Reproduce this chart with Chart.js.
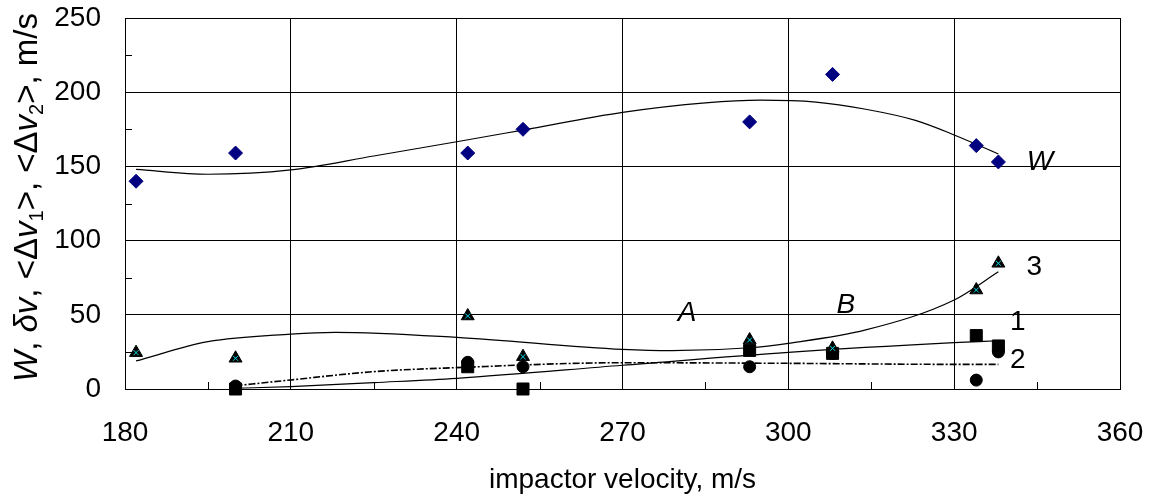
<!DOCTYPE html>
<html>
<head>
<meta charset="utf-8">
<script src="https://cdn.jsdelivr.net/npm/chart.js@4/dist/chart.umd.min.js"></script>
<style>
  html, body { margin: 0; padding: 0; background: #fff; }
</style>
</head>
<body>
<canvas id="chart" width="1157" height="497"></canvas>
<script>
// measured points
const velocityW = [182, 200, 242, 252, 293, 308, 334, 338]
const valuesW = [140, 159, 159, 175, 180, 212, 164, 153]
const values3 = [24.5, 20.7, 49.2, 21.8, 33, 27.4, 66.7, 84.7]
const velocity12 = [200, 242, 252, 293, 308, 334, 338]
const values1 = [0, 15, 0, 26, 24, 36, 29]
const values2 = [2, 18, 15, 15, 24, 6, 25]

// trend curves
const trendWX = [182, 195, 210, 225, 240, 252, 270, 285, 295, 305, 314, 323, 330, 338]
const trendW = [148, 144.7, 147.6, 157, 166.6, 174.5, 186.4, 192.8, 194.6, 193.3, 188.5, 181, 171.2, 158.4]
const trend3X = [182, 195, 210, 218, 240, 270, 279, 293, 300, 314, 330, 338]
const trend3 = [18.9, 31.9, 37, 38.2, 34.8, 26.7, 25.8, 27.8, 30.8, 39.8, 60, 79]
const trend1X = [200, 210, 225, 240, 270, 300, 330, 338]
const trend1 = [0.5, 1.6, 4.3, 7.2, 16, 24.7, 31.2, 32.5]
const trend2X = [200, 210, 225, 240, 270, 300, 330, 338]
const trend2 = [2.2, 6.1, 11.7, 14.4, 17.7, 17.3, 16.6, 16.6]

// axes
const xTicks = [180, 210, 240, 270, 300, 330, 360]
const yTicks = [0, 50, 100, 150, 200, 250]
const minorX = [195, 225, 255, 285, 315, 345]
const minorY = [25, 75, 125, 175, 225]

const xTitle = 'impactor velocity, m/s'
// [text, italic, subscript]
const yTitleParts = [
  ['W', true, false], [', ', false, false], ['δv', true, false], [', <Δ', false, false],
  ['v', true, false], ['1', false, true], ['>, <Δ', false, false], ['v', true, false],
  ['2', false, true], ['>, m/s', false, false]
]
// curve labels: text, x value, y value, italic
const curveLabels = [
  ['W', 345.5, 153, true], ['3', 344.5, 82, false], ['1', 341.5, 45, false],
  ['2', 341.5, 19.5, false], ['A', 281.7, 51, true], ['B', 310.4, 56.6, true]
]

const FONT = "'Liberation Sans', Arial, sans-serif"
const pts = (xs, ys) => xs.map((x, i) => ({ x: x, y: ys[i] }))

const minorTicks = {
  id: 'minorTicks',
  beforeDatasetsDraw(chart) {
    const { ctx, chartArea: a, scales: { x, y } } = chart
    ctx.save()
    ctx.strokeStyle = '#000'
    ctx.lineWidth = 1
    ctx.beginPath()
    minorX.forEach(v => {
      const px = Math.round(x.getPixelForValue(v)) + 0.5
      ctx.moveTo(px, a.bottom); ctx.lineTo(px, a.bottom - 7)
    })
    minorY.forEach(v => {
      const py = Math.round(y.getPixelForValue(v)) + 0.5
      ctx.moveTo(a.left, py); ctx.lineTo(a.left + 7, py)
    })
    ctx.stroke()
    ctx.restore()
  }
}

const textBits = {
  id: 'textBits',
  afterDraw(chart) {
    const { ctx, chartArea: a, scales: { x, y } } = chart
    ctx.save()
    ctx.fillStyle = '#000'
    ctx.textBaseline = 'middle'
    // curve labels
    curveLabels.forEach(([t, vx, vy, it]) => {
      ctx.font = (it ? 'italic ' : '') + '28px ' + FONT
      ctx.textAlign = 'center'
      ctx.fillText(t, x.getPixelForValue(vx), y.getPixelForValue(vy))
    })
    // y title with italics and subscripts
    const size = 33
    const fontOf = p => (p[1] ? 'italic ' : '') + (p[2] ? Math.round(size * 0.62) : size) + 'px ' + FONT
    let total = 0
    yTitleParts.forEach(p => { ctx.font = fontOf(p); total += ctx.measureText(p[0]).width })
    ctx.translate(28, (a.top + a.bottom) / 2 - 6)
    ctx.rotate(-Math.PI / 2)
    ctx.textAlign = 'left'
    let cx = -total / 2
    yTitleParts.forEach(p => {
      ctx.font = fontOf(p)
      ctx.fillText(p[0], cx, p[2] ? size * 0.28 : 0)
      cx += ctx.measureText(p[0]).width
    })
    ctx.restore()
  }
}

const pointSet = (data, style, radius, color, order) => ({
  data: data, pointStyle: style, pointRadius: radius, pointHoverRadius: radius,
  backgroundColor: color, borderColor: color, borderWidth: 1, showLine: false,
  clip: false, order: order
})
const trendSet = (data, dash, width, order) => ({
  data: data, showLine: true, pointRadius: 0, borderColor: '#000', borderWidth: width,
  borderDash: dash, cubicInterpolationMode: 'monotone', fill: false, clip: false, order: order
})

const cyanX = pointSet(pts(velocityW, values3), 'crossRot', 3.5, '#00e0f0', 0)

new Chart(document.getElementById('chart'), {
  type: 'scatter',
  data: {
    datasets: [
      cyanX,
      pointSet(pts(velocityW, valuesW), 'rectRot', 7, '#000080', 1),
      pointSet(pts(velocityW, values3), 'triangle', 7.5, '#000', 2),
      pointSet(pts(velocity12, values1), 'rect', 8.5, '#000', 3),
      pointSet(pts(velocity12, values2), 'circle', 6, '#000', 4),
      trendSet(pts(trendWX, trendW), [], 1.2, 5),
      trendSet(pts(trend3X, trend3), [], 1.2, 6),
      trendSet(pts(trend1X, trend1), [], 1.2, 7),
      trendSet(pts(trend2X, trend2), [7, 2, 2, 2], 1.6, 8)
    ]
  },
  options: {
    responsive: false,
    animation: false,
    layout: { padding: { top: 18, right: 37, left: 0, bottom: 0 } },
    plugins: { legend: { display: false }, tooltip: { enabled: false } },
    scales: {
      x: {
        type: 'linear', min: 180, max: 360,
        afterBuildTicks: s => { s.ticks = xTicks.map(v => ({ value: v })) },
        afterFit: s => { s.height = 108; s.paddingLeft = 0; s.paddingRight = 0 },
        grid: { color: '#000', lineWidth: 1, drawTicks: false },
        border: { color: '#000', width: 1 },
        ticks: { color: '#000', font: { family: FONT, size: 28 }, padding: 27, maxRotation: 0 },
        title: { display: true, text: xTitle, color: '#000', font: { family: FONT, size: 28 }, padding: { top: 0, bottom: 0 } }
      },
      y: {
        min: 0, max: 250,
        afterBuildTicks: s => { s.ticks = yTicks.map(v => ({ value: v })) },
        afterFit: s => { s.width = 125; s.paddingTop = 0; s.paddingBottom = 0 },
        grid: { color: '#000', lineWidth: 1, drawTicks: false },
        border: { color: '#000', width: 1 },
        ticks: { color: '#000', font: { family: FONT, size: 28 }, padding: 24 }
      }
    }
  },
  plugins: [minorTicks, textBits]
})
</script>
</body>
</html>
